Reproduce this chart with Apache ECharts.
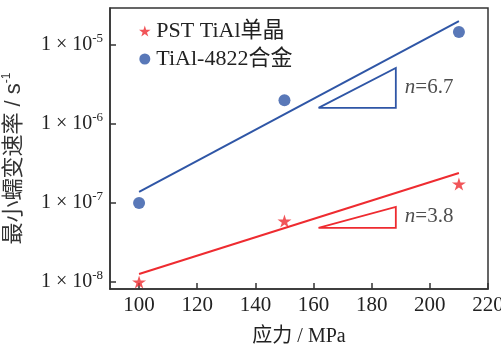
<!DOCTYPE html>
<html>
<head>
<meta charset="utf-8">
<script src="https://cdn.jsdelivr.net/npm/echarts@6/dist/echarts.min.js"></script>
<style>html,body{margin:0;padding:0;background:#fff;}#c{width:501px;height:350px;}</style>
</head>
<body>
<div id="c"></div>
<script>
const xTicks = [100, 120, 140, 160, 180, 200, 220];
const yDecades = [-8, -7, -6, -5];
const stress = [100, 150, 210];
const pstRate = [1.0e-8, 5.9e-8, 1.74e-7];
const tiRate = [1.0e-7, 2.0e-6, 1.46e-5];
const pstFitX = [100, 210];
const pstFitY = [1.26e-8, 2.4e-7];
const tiFitX = [100, 210];
const tiFitY = [1.38e-7, 2.0e-5];
const triX = [161.7, 188.3, 188.3, 161.7];
const pstTriY = [4.83e-8, 4.83e-8, 8.9e-8, 4.83e-8];
const tiTriY = [1.6e-6, 1.6e-6, 5.1e-6, 1.6e-6];
const slopeLabels = ['6.7', '3.8'];
const slopeLabelX = [191.4, 191.4];
const slopeLabelY = [2.86e-6, 6.65e-8];
const seriesNames = ['PST TiAl单晶', 'TiAl-4822合金'];

const RED = '#ee2b30';
const BLUE = '#2f56a6';
const SERIF = "'Liberation Serif', 'Noto Sans CJK SC', serif";
const SANS = "'Liberation Sans', 'Noto Sans CJK SC', sans-serif";
const STAR = 'path://M50,0 L61,35 L98,35 L68,57 L79,91 L50,70 L21,91 L32,57 L2,35 L39,35 Z';

const pts = (xs, ys) => xs.map((x, i) => [x, Math.log10(ys[i])]);

const chart = echarts.init(document.getElementById('c'), null, {renderer: 'canvas'});
chart.setOption({
  animation: false,
  backgroundColor: '#fff',
  grid: {left: 110, top: 8, right: 13, bottom: 61, outerBoundsMode: 'none', containLabel: false,
    show: true, borderColor: '#333', borderWidth: 1.5, backgroundColor: 'transparent'},
  legend: {
    data: [{name: seriesNames[0], icon: STAR}, {name: seriesNames[1], icon: 'circle'}],
    orient: 'vertical', left: 134, top: 14, itemWidth: 13, itemHeight: 11, itemGap: 4,
    textStyle: {fontFamily: SERIF, fontSize: 22, lineHeight: 24, color: '#222'}
  },
  xAxis: {
    type: 'value', min: 90, max: 220,
    name: '应力 / MPa', nameLocation: 'middle', nameGap: 38,
    nameTextStyle: {fontFamily: SERIF, fontSize: 20, color: '#222'},
    axisLine: {lineStyle: {color: '#333', width: 1.5}},
    axisTick: {inside: true, length: 6, lineStyle: {color: '#333', width: 1.5}, customValues: xTicks},
    axisLabel: {fontFamily: SERIF, fontSize: 21, color: '#222', margin: 6, customValues: xTicks},
    splitLine: {show: false}
  },
  yAxis: {
    type: 'value', min: -8.089, max: -4.532,
    name: '{a|最小蠕变速率 / s}{b|-1}', nameLocation: 'middle', nameGap: 84,
    nameTextStyle: {fontFamily: SANS, fontSize: 22, color: '#333', padding: [0, 20, 0, 0],
      rich: {a: {fontFamily: SANS, fontSize: 22, color: '#333'}, b: {fontFamily: SANS, fontSize: 12, color: '#333', padding: [0,0,13,0]}}},
    axisLine: {lineStyle: {color: '#333', width: 1.5}},
    axisTick: {inside: true, length: 6, lineStyle: {color: '#333', width: 1.5}, customValues: yDecades},
    axisLabel: {
      margin: 7, customValues: yDecades,
      formatter: v => '{a|1 × 10}{b|' + v + '}',
      rich: {a: {fontFamily: SERIF, fontSize: 20, color: '#222'}, b: {fontFamily: SERIF, fontSize: 13, color: '#222', padding: [0,0,12,0]}}
    },
    splitLine: {show: false}
  },
  series: [
    {type: 'line', data: pts(pstFitX, pstFitY), symbol: 'none', lineStyle: {color: RED, width: 2}, silent: true, z: 2},
    {type: 'line', data: pts(tiFitX, tiFitY), symbol: 'none', lineStyle: {color: BLUE, width: 2}, silent: true, z: 2},
    {type: 'line', data: pts(triX, pstTriY), symbol: 'none', lineStyle: {color: RED, width: 1.8, join: 'miter'}, silent: true, z: 2},
    {type: 'line', data: pts(triX, tiTriY), symbol: 'none', lineStyle: {color: BLUE, width: 1.8, join: 'miter'}, silent: true, z: 2},
    {name: seriesNames[0], type: 'scatter', data: pts(stress, pstRate), symbol: STAR, symbolSize: [14, 13], itemStyle: {color: RED}, z: 3},
    {name: seriesNames[1], type: 'scatter', data: pts(stress, tiRate), symbol: 'circle', symbolSize: 12, itemStyle: {color: BLUE}, z: 3},
    {type: 'scatter', symbolSize: 0, silent: true,
      data: slopeLabelX.map((x, i) => ({value: [x, Math.log10(slopeLabelY[i])], name: slopeLabels[i]})),
      label: {show: true, position: 'right', distance: 0, formatter: p => '{i|n}{r|=' + p.name + '}',
        rich: {i: {fontFamily: SERIF, fontStyle: 'italic', fontSize: 21, color: '#222'}, r: {fontFamily: SERIF, fontSize: 21, color: '#222'}}}}
  ]
});
</script>
</body>
</html>
